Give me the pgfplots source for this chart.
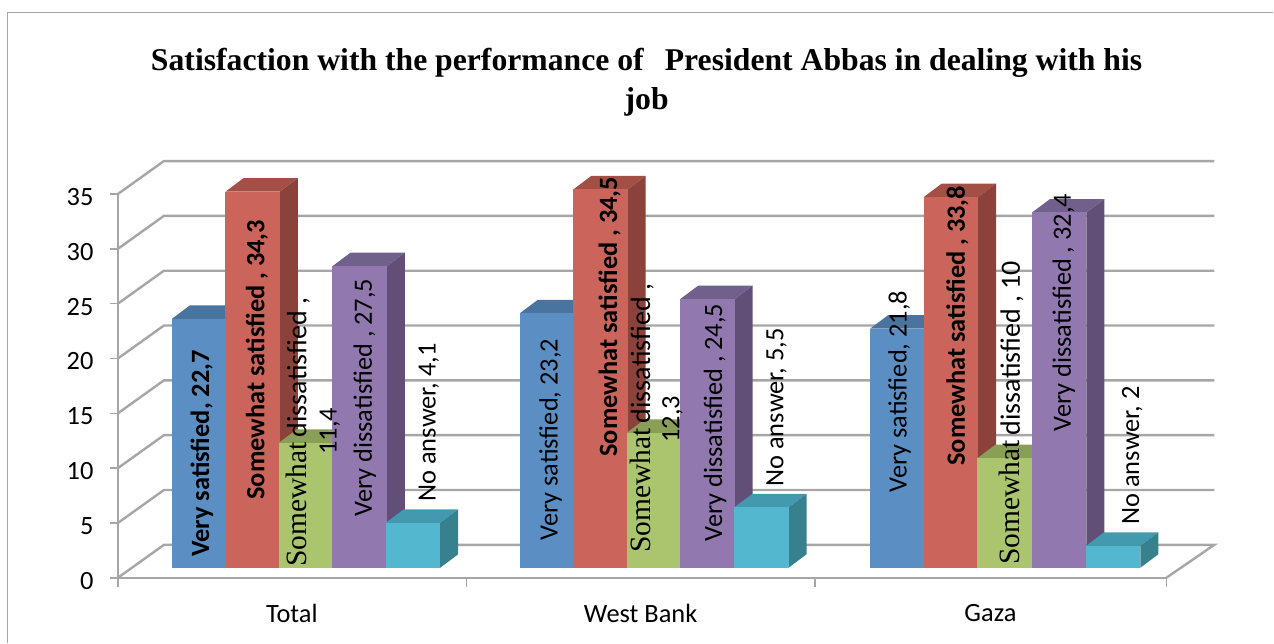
\documentclass[border=0pt]{standalone}
\usepackage{fontspec}
\usepackage{pgfplots}
\pgfplotsset{compat=1.18}
\setmainfont{Carlito}
\newfontfamily\ser{Liberation Serif}
\definecolor{wall}{HTML}{A6A6A6}
\definecolor{bluef}{HTML}{5B8FC4}\definecolor{bluet}{HTML}{4A74A0}\definecolor{blues}{HTML}{3F6389}
\definecolor{redf}{HTML}{CB645A}\definecolor{redt}{HTML}{A34F46}\definecolor{reds}{HTML}{8B423A}
\definecolor{greenf}{HTML}{ABC46E}\definecolor{greent}{HTML}{8A9F56}\definecolor{greens}{HTML}{75884A}
\definecolor{purplef}{HTML}{9178AF}\definecolor{purplet}{HTML}{72608C}\definecolor{purples}{HTML}{624F78}
\definecolor{cyanf}{HTML}{53B7CF}\definecolor{cyant}{HTML}{4399AD}\definecolor{cyans}{HTML}{37818F}
% one 3d column: left edge, value, colour; front face goes through ybar
\newcommand\column[3]{%
  \pgfmathsetmacro\xa{#1+54.4}\pgfmathsetmacro\xb{#1+72.4}\pgfmathsetmacro\xc{#1+18}%
  \pgfmathsetmacro\xm{#1+27.2}\pgfmathsetmacro\yt{#2+1.23}%
  \edef\doit{%
    \noexpand\addplot[fill=#3t,draw=none] coordinates {(#1,#2)(\xa,#2)(\xb,\yt)(\xc,\yt)(#1,#2)};
    \noexpand\addplot[fill=#3s,draw=none] coordinates {(\xa,0)(\xa,#2)(\xb,\yt)(\xb,1.23)(\xa,0)};
    \noexpand\addplot[ybar,bar shift=0pt,bar width=54.4,fill=#3f,draw=none] coordinates {(\xm,#2)};
  }\doit}
% rotated label: x centre, pixel row where the text starts, text
\newcommand\lab[3]{\node[rotate=90,anchor=west,inner sep=0pt,font=\fontsize{26.4}{28}\selectfont] at (axis cs:#1,{(568-#2)/10.97}) {#3};}
% the green series sets its first word in a wide serif
\newcommand\sw{{\ser\fontsize{29.5}{30}\selectfont Somewhat}\hspace{5pt}\fontsize{28}{30}\selectfont}
\begin{document}
\begin{tikzpicture}
\begin{axis}[
  scale only axis, width=1049pt, height=384pt,
  xmin=118, xmax=1167, ymin=-0.912, ymax=34.088,
  clip=false,
  axis x line*=bottom, axis y line*=left,
  axis line style={wall,line width=2.4pt},
  tick align=outside,
  tick style={wall,line width=1.5pt},
  major tick length=8pt, minor tick length=9pt,
  xtick={292,641,991}, xticklabels={Total,West Bank,Gaza},
  minor xtick={118,467,815.5,1167},
  xtick style={draw=none},
  minor x tick style={draw=wall},
  ytick={-0.912,4.088,9.088,14.088,19.088,24.088,29.088,34.088},
  yticklabels={0,5,10,15,20,25,30,35},
  tick label style={font=\fontsize{26.4}{28}\selectfont},
  xticklabel style={yshift=-15pt},
  yticklabel style={xshift=-13pt,yshift=-3pt},
  /pgf/number format/assume math mode=true,
]
% chart area frame, open to the right and below
\addplot[wall,line width=1.5pt] coordinates {(7.5,-6.84)(7.5,50.62)(1274,50.62)};
% back wall, left wall and floor
\addplot[wall,line width=2.4pt,unbounded coords=jump] coordinates {
  (118,-0.912)(164,2.09)(1215,2.09)(1167,-0.912) (nan,nan)
  (118,4.088)(164,7.09)(1215,7.09) (nan,nan)
  (118,9.088)(164,12.09)(1215,12.09) (nan,nan)
  (118,14.088)(164,17.09)(1215,17.09) (nan,nan)
  (118,19.088)(164,22.09)(1215,22.09) (nan,nan)
  (118,24.088)(164,27.09)(1215,27.09) (nan,nan)
  (118,29.088)(164,32.09)(1215,32.09) (nan,nan)
  (118,34.088)(164,37.09)(1215,37.09)
};
% Total
\column{172}{22.7}{blue}\column{225.6}{34.3}{red}\column{279}{11.4}{green}\column{332.6}{27.5}{purple}\column{386}{4.1}{cyan}
% West Bank
\column{520}{23.2}{blue}\column{573.6}{34.5}{red}\column{627}{12.3}{green}\column{680.6}{24.5}{purple}\column{734.6}{5.5}{cyan}
% Gaza
\column{870.6}{21.8}{blue}\column{924.2}{33.8}{red}\column{978}{10}{green}\column{1032.6}{32.4}{purple}\column{1086.6}{2}{cyan}
% title
\node[font=\ser\bfseries\fontsize{31.7}{39}\selectfont,align=center] at (axis cs:647,{(568-82)/10.97}) {Satisfaction with the performance of \ \,President Abbas in dealing with his\\job};
% data labels
\lab{202}{557}{\bfseries Very satisfied, 22,7}
\lab{257}{500}{\bfseries Somewhat satisfied , 34,3}
\lab{298}{567}{\sw dissatisfied ,}
\lab{330}{455}{11,4}
\lab{365}{517}{Very dissatisfied , 27,5}
\lab{429}{502}{No answer, 4,1}
\lab{551}{541}{Very satisfied, 23,2}
\lab{610}{457}{\bfseries Somewhat satisfied , 34,5}
\lab{642}{553}{\sw dissatisfied ,}
\lab{673}{443}{12,3}
\lab{715.5}{542}{Very dissatisfied , 24,5}
\lab{777}{487}{No answer, 5,5}
\lab{900}{493}{Very satisfied, 21,8}
\lab{958}{466}{\bfseries Somewhat satisfied , 33,8}
\lab{1012}{565}{\sw dissatisfied , 10}
\lab{1064.5}{432}{Very dissatisfied , 32,4}
\lab{1133}{525}{No answer, 2}
% full page extent
\path (axis cs:0,-6.84) rectangle (axis cs:1274,51.78);
\end{axis}
\end{tikzpicture}
\end{document}
